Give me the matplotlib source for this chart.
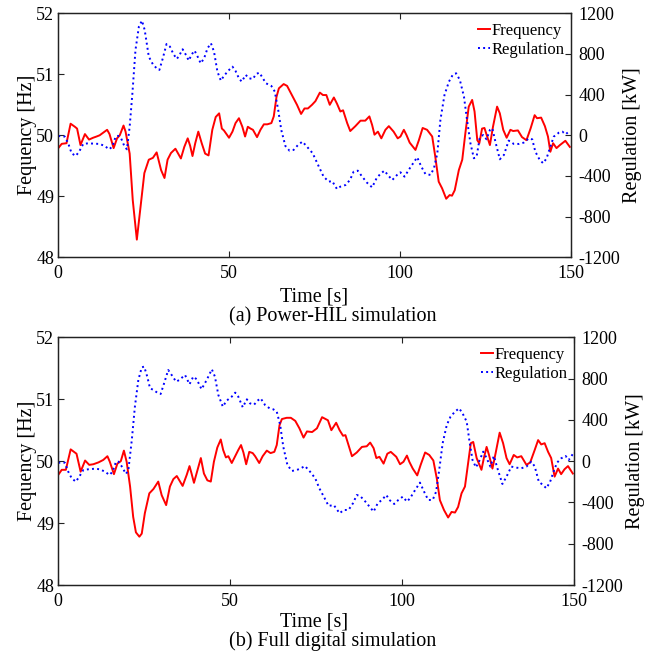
import matplotlib
matplotlib.use("Agg")
import matplotlib.pyplot as plt

plt.rcParams['font.family'] = ['Liberation Serif', 'DejaVu Serif']
plt.rcParams['axes.unicode_minus'] = False

# ---------------- data ----------------
# (a) Power-HIL simulation
t_a_f = [0, 1, 2.4, 3.6, 4.85, 5.5, 6.5, 7.8, 9.0, 10.2,
         11.2, 12.1, 13.1, 14.3, 15.0, 16.2, 17.2, 18.0, 19.1, 19.7,
         20.9, 21.8, 23.0, 24.3, 25.2, 26.5, 27.7, 28.8, 30.1, 31.1,
         32.0, 33.0, 34.3, 35.9, 36.9, 37.9, 38.6, 39.3, 40.1, 41.0,
         42.0, 43.0, 44.0, 45.1, 46.1, 47.1, 47.9, 48.5, 50.0, 51.0,
         51.9, 52.9, 53.9, 54.7, 55.5, 56.3, 57.0, 58.2, 59.2, 60.2,
         61.2, 62.4, 63.1, 63.9, 64.6, 66.0, 67.0, 68.4, 69.9, 71.1,
         72.1, 73.1, 74.3, 75.3, 76.6, 77.5, 78.5, 79.5, 80.7, 81.6,
         82.6, 83.4, 84.6, 85.5, 87.0, 88.5, 89.9, 91.1, 91.9, 92.6,
         93.6, 94.6, 95.8, 96.8, 98.2, 99.4, 100.2, 101.2, 102.0, 102.9,
         104.6, 105.6, 106.7, 108.0, 109.5, 110.4, 111.4, 112.4, 113.6, 114.6,
         115.3, 116.1, 117.3, 118.3, 119.2, 120.2, 121.2, 121.9, 122.7, 123.3,
         124.1, 124.8, 125.6, 126.4, 127.3, 128.5, 129.3, 130.3, 131.3, 132.4,
         133.2, 134.6, 135.8, 137.1, 138.3, 139.5, 140.2, 141.4, 142.5, 143.4,
         144.1, 144.9, 145.9, 146.9, 148.5, 149.8]
freq_a = [49.79, 49.86, 49.87, 50.19, 50.14, 50.11, 49.84, 50.02, 49.93, 49.96,
          49.98, 50.00, 50.04, 50.09, 50.02, 49.79, 49.95, 50.00, 50.16, 50.06,
          49.70, 48.94, 48.29, 48.94, 49.38, 49.60, 49.63, 49.72, 49.43, 49.30,
          49.60, 49.71, 49.78, 49.62, 49.81, 49.95, 49.83, 49.66, 49.87, 50.06,
          49.87, 49.70, 49.67, 50.09, 50.30, 50.36, 50.11, 50.08, 49.96, 50.06,
          50.20, 50.28, 50.14, 49.98, 50.14, 50.11, 50.09, 49.97, 50.09, 50.18,
          50.18, 50.20, 50.31, 50.63, 50.77, 50.84, 50.81, 50.66, 50.50, 50.35,
          50.44, 50.44, 50.50, 50.56, 50.70, 50.66, 50.66, 50.50, 50.62, 50.52,
          50.39, 50.41, 50.20, 50.07, 50.15, 50.24, 50.24, 50.31, 50.17, 50.01,
          50.06, 49.95, 50.09, 50.15, 50.06, 49.95, 49.98, 50.09, 50.00, 49.88,
          49.76, 49.92, 50.12, 50.09, 49.98, 49.65, 49.24, 49.13, 48.96, 49.02,
          49.01, 49.10, 49.43, 49.60, 50.03, 50.47, 50.58, 50.39, 49.92, 49.87,
          50.11, 50.12, 49.98, 49.84, 50.14, 50.47, 50.36, 50.09, 49.96, 50.09,
          50.07, 50.08, 49.97, 49.92, 50.11, 50.33, 50.28, 50.29, 50.15, 49.98,
          49.73, 49.87, 49.79, 49.84, 49.91, 49.81]

t_a_r = [0, 1.9, 2.9, 3.9, 5.1, 6.1, 7.3, 8.7, 10.7, 12.1,
         13.6, 14.9, 15.8, 16.8, 17.5, 18.4, 19.4, 20.1, 20.9, 21.7,
         22.6, 23.6, 24.5, 25.3, 26.5, 27.7, 28.8, 29.6, 30.6, 31.7,
         32.7, 33.7, 34.7, 35.4, 36.4, 37.4, 38.2, 39.1, 39.9, 40.8,
         41.7, 42.7, 43.7, 44.7, 45.6, 46.6, 47.6, 48.5, 49.8, 51.0,
         51.9, 52.9, 53.7, 54.9, 55.8, 57.0, 57.9, 58.9, 59.9, 60.8,
         62.4, 63.4, 64.4, 65.3, 66.5, 67.7, 68.9, 70.2, 71.5, 72.8,
         74.5, 76.3, 77.7, 79.2, 80.2, 81.6, 82.6, 84.1, 85.4, 86.5,
         87.7, 89.0, 90.4, 91.9, 93.2, 94.3, 95.5, 96.5, 97.8, 99.2,
         100.2, 101.4, 102.6, 103.9, 105.1, 106.3, 107.5, 109.0, 110.0, 111.0,
         111.9, 113.1, 114.4, 115.5, 116.5, 117.6, 118.8, 119.7, 120.7, 121.7,
         122.5, 123.4, 124.4, 125.4, 126.4, 127.1, 128.0, 129.3, 130.5, 131.9,
         133.4, 134.9, 136.3, 137.8, 138.8, 139.7, 141.0, 142.0, 143.0, 144.1,
         145.1, 146.6, 147.6, 148.6, 149.8]
reg_a = [-7, -13, -79, -177, -203, -161, -85, -79, -82, -85,
         -105, -138, -111, -13, -5, -30, -111, -138, 85, 413,
         839, 1069, 1128, 1036, 774, 698, 659, 643, 757, 898,
         872, 800, 751, 784, 846, 790, 735, 797, 833, 774,
         708, 757, 856, 905, 823, 626, 538, 584, 636, 675,
         633, 561, 528, 594, 561, 554, 603, 616, 561, 512,
         485, 430, 249, 52, -105, -151, -144, -95, -62, -111,
         -177, -308, -407, -456, -450, -528, -505, -489, -440, -357,
         -348, -407, -466, -512, -423, -380, -348, -390, -440, -390,
         -364, -407, -341, -275, -216, -308, -380, -390, -325, -177,
         151, 397, 528, 594, 610, 544, 380, 151, -79, -226,
         -210, -30, 3, -39, 52, 69, -62, -236, -193, -52,
         -85, -85, -72, -30, -40, -161, -243, -275, -226, -111,
         -13, 26, 36, 10, 46]

# (b) Full digital simulation
t_b_f = [0, 1, 2.2, 3.6, 4.6, 5.3, 6.5, 7.8, 9.0, 10.2,
         11.7, 13.1, 14.3, 15.0, 16.2, 17.2, 18.2, 19.1, 19.9, 20.9,
         21.8, 22.6, 23.6, 24.3, 25.2, 26.5, 27.7, 29.1, 30.1, 31.4,
         32.5, 33.5, 34.5, 36.2, 37.4, 38.2, 38.8, 39.5, 40.5, 41.5,
         42.4, 43.4, 44.4, 45.3, 46.3, 47.3, 48.0, 48.8, 49.5, 50.5,
         51.5, 52.4, 53.2, 53.9, 54.7, 55.6, 56.6, 57.3, 58.5, 59.5,
         60.7, 61.8, 62.9, 63.6, 64.4, 65.1, 66.5, 67.7, 69.0, 70.2,
         71.4, 72.4, 73.9, 75.3, 76.8, 77.8, 78.5, 79.5, 80.9, 81.9,
         82.9, 83.6, 84.5, 85.5, 86.9, 88.4, 89.8, 90.8, 91.8, 92.6,
         93.5, 94.7, 95.8, 96.8, 98.4, 99.5, 100.5, 101.5, 102.2, 103.2,
         104.5, 105.5, 106.8, 108.0, 109.2, 110.2, 111.1, 112.3, 113.5, 114.5,
         115.5, 116.4, 117.4, 118.4, 119.3, 120.1, 120.8, 121.8, 123.2, 123.9,
         124.7, 125.4, 126.4, 127.4, 128.5, 129.5, 130.5, 131.4, 132.6, 133.6,
         134.8, 136.3, 137.4, 138.7, 139.7, 140.6, 141.6, 142.6, 143.5, 144.5,
         145.5, 146.4, 147.4, 148.4, 149.8]
freq_b = [49.78, 49.86, 49.86, 50.19, 50.15, 50.12, 49.83, 50.01, 49.94, 49.95,
          49.98, 50.02, 50.08, 49.99, 49.79, 49.96, 50.00, 50.17, 49.99, 49.59,
          49.10, 48.85, 48.78, 48.83, 49.16, 49.48, 49.55, 49.67, 49.45, 49.29,
          49.59, 49.71, 49.76, 49.60, 49.78, 49.92, 49.80, 49.65, 49.85, 50.05,
          49.80, 49.69, 49.67, 49.99, 50.22, 50.35, 50.18, 50.06, 50.08, 49.97,
          50.08, 50.18, 50.26, 50.14, 49.95, 50.15, 50.13, 50.08, 49.97, 50.08,
          50.17, 50.13, 50.15, 50.26, 50.58, 50.68, 50.70, 50.70, 50.65, 50.53,
          50.38, 50.48, 50.47, 50.53, 50.71, 50.68, 50.66, 50.50, 50.62, 50.50,
          50.41, 50.42, 50.26, 50.08, 50.14, 50.23, 50.24, 50.30, 50.21, 50.05,
          50.07, 49.96, 50.12, 50.15, 50.07, 49.95, 49.99, 50.09, 49.99, 49.88,
          49.77, 49.94, 50.14, 50.10, 50.01, 49.72, 49.37, 49.21, 49.09, 49.18,
          49.17, 49.26, 49.48, 49.59, 49.96, 50.29, 50.31, 50.05, 49.86, 50.05,
          50.23, 50.10, 49.88, 50.15, 50.46, 50.29, 50.05, 49.95, 50.10, 50.06,
          50.08, 49.94, 49.98, 50.18, 50.34, 50.27, 50.29, 50.15, 50.05, 49.75,
          49.88, 49.79, 49.87, 49.92, 49.80]

t_b_r = [0, 1.9, 2.9, 3.9, 5.1, 6.1, 7.3, 8.7, 10.7, 12.1,
         13.6, 14.9, 15.8, 16.8, 17.5, 18.4, 19.7, 20.4, 21.4, 22.3,
         23.3, 24.3, 25.0, 25.9, 26.7, 27.7, 28.8, 29.8, 30.8, 32.0,
         33.0, 34.3, 35.2, 36.9, 38.2, 39.3, 40.3, 41.7, 43.2, 44.7,
         45.6, 46.6, 47.9, 49.0, 50.5, 51.5, 52.4, 53.7, 54.9, 55.8,
         57.0, 58.0, 58.9, 60.2, 61.5, 62.6, 63.6, 64.6, 65.5, 66.7,
         68.0, 69.4, 70.6, 71.8, 73.3, 74.8, 76.0, 77.3, 78.7, 80.2,
         81.9, 83.1, 84.5, 85.8, 86.9, 87.9, 89.4, 90.6, 91.8, 93.0,
         94.2, 95.5, 96.4, 97.8, 99.0, 100.3, 101.5, 102.4, 103.9, 105.3,
         106.5, 107.7, 109.0, 110.0, 110.9, 111.9, 113.1, 114.2, 115.5, 116.7,
         117.7, 118.9, 119.8, 120.6, 121.6, 122.7, 123.7, 124.7, 125.8, 126.8,
         128.0, 129.3, 130.5, 131.9, 133.4, 134.8, 136.3, 137.7, 138.7, 139.9,
         141.1, 142.1, 143.2, 144.2, 145.2, 146.4, 147.7, 148.6, 149.8]
reg_b = [-15, -15, -102, -166, -199, -150, -86, -79, -73, -79,
         -102, -134, -102, -5, -5, -47, -124, -86, 205, 528,
         786, 909, 916, 819, 706, 690, 664, 651, 754, 883,
         835, 770, 786, 835, 745, 819, 793, 697, 786, 890,
         819, 641, 528, 586, 625, 664, 625, 522, 599, 560,
         547, 586, 609, 544, 512, 502, 480, 350, 140, -37,
         -95, -86, -70, -47, -102, -166, -263, -344, -434, -425,
         -505, -473, -473, -408, -328, -338, -392, -441, -489, -408,
         -376, -328, -376, -415, -376, -344, -392, -360, -279, -208,
         -296, -376, -376, -296, -86, 173, 350, 431, 480, 512,
         463, 383, 173, 11, -60, 11, 92, 30, -53, 50,
         -86, -221, -150, -53, -63, -69, -53, -5, -50, -199,
         -231, -263, -199, -102, -15, 27, 50, 11, 69]

freq_ticks = [48, 49, 50, 51, 52]
reg_ticks = [-1200, -800, -400, 0, 400, 800, 1200]
time_ticks = [0, 50, 100, 150]
captions = ["(a) Power-HIL simulation", "(b) Full digital simulation"]

# ---------------- figure ----------------
W = H = 656.0
fig = plt.figure(figsize=(6.56, 6.56), dpi=100)

panels = [
    dict(rect=[58.3 / W, 1 - 257.3 / H, (570.5 - 58.3) / W, 244.0 / H],
         t_f=t_a_f, f=freq_a, t_r=t_a_r, r=reg_a, cap=captions[0],
         xl_y=297.0, cap_y=316.5),
    dict(rect=[58.3 / W, 1 - 585.0 / H, (573.5 - 58.3) / W, 247.7 / H],
         t_f=t_b_f, f=freq_b, t_r=t_b_r, r=reg_b, cap=captions[1],
         xl_y=621.5, cap_y=641.0),
]

TICK_FS = 13
LABEL_FS = 14.5
spine_c = '#222222'

for p in panels:
    ax = fig.add_axes(p['rect'])
    axr = ax.twinx()
    lf, = ax.plot(p['t_f'], p['f'], color='#ff0000', lw=1.4, label='Frequency')
    lr, = axr.plot(p['t_r'], p['r'], color='#0000ff', lw=1.4, ls=':',
                   label='Regulation')
    ax.set_xlim(0, 150)
    ax.set_ylim(48, 52)
    axr.set_ylim(-1200, 1200)
    ax.set_xticks(time_ticks)
    ax.set_yticks(freq_ticks)
    axr.set_yticks(reg_ticks)
    ax.tick_params(axis='x', direction='in', top=True, length=4, width=0.8,
                   labelsize=TICK_FS, pad=5.5, colors=spine_c, labelcolor='black')
    ax.tick_params(axis='y', direction='in', left=True, right=False, length=4,
                   width=0.8, labelsize=TICK_FS, pad=3, colors=spine_c,
                   labelcolor='black')
    axr.tick_params(axis='y', direction='in', length=4, width=0.8,
                    labelsize=TICK_FS, pad=6, colors=spine_c, labelcolor='black')
    for a in (ax, axr):
        for s in a.spines.values():
            s.set_linewidth(0.9)
            s.set_color(spine_c)
    ax.set_ylabel('Fequency [Hz]', fontsize=LABEL_FS, labelpad=-1)
    axr.set_ylabel('Regulation [kW]', fontsize=LABEL_FS, labelpad=2)
    axr.legend([lf, lr], ['Frequency', 'Regulation'], loc='upper right',
               bbox_to_anchor=(1.0, 1.0 - 4.0 / 244.0),
               frameon=False, fontsize=12, handlelength=0.7,
               handletextpad=0.1, borderaxespad=0.15, labelspacing=0.15,
               borderpad=0.2)
    fig.text(314 / W, 1 - p['xl_y'] / H, 'Time [s]', ha='center', va='center',
             fontsize=LABEL_FS)
    fig.text(333 / W, 1 - p['cap_y'] / H, p['cap'], ha='center', va='center',
             fontsize=LABEL_FS)

fig.savefig('out.png', dpi=100)
